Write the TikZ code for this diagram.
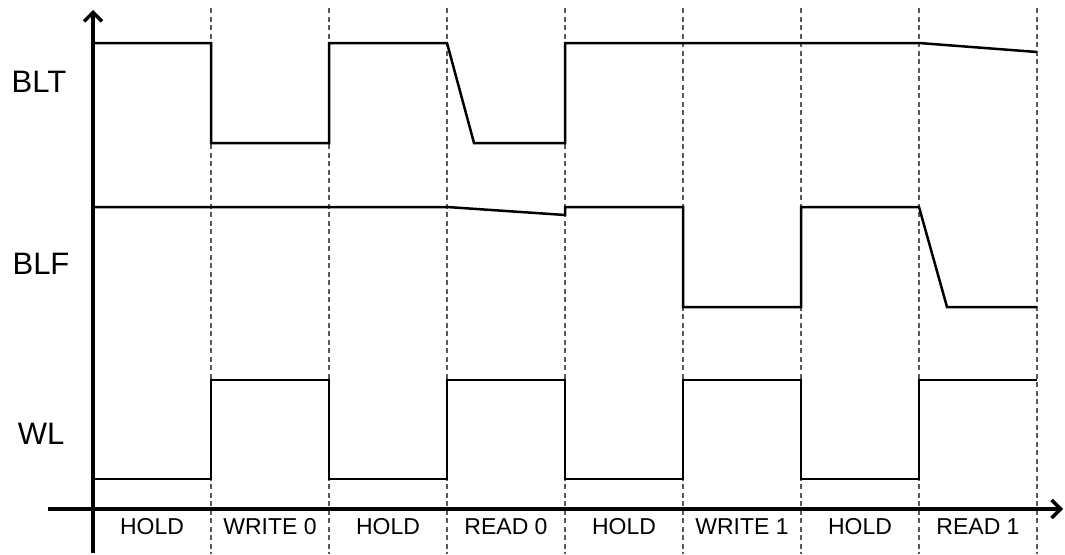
\documentclass[tikz,border=0pt]{standalone}
\usepackage{fontspec}
\setmainfont{Liberation Sans}
\usetikzlibrary{arrows.meta}
\begin{document}
\begin{tikzpicture}[x=1pt,y=-1pt,
  axis/.style={line width=3.5pt,-{Straight Barb[length=9pt,width=18pt,line width=3.5pt]}},
  sig/.style={line width=2.5pt,line join=miter},
  grid/.style={line width=1.2pt,dash pattern=on 5pt off 3.5pt,black!65},
  siglabel/.style={font=\fontsize{31}{31}\selectfont,inner sep=0pt},
  phase/.style={font=\fontsize{23}{23}\selectfont,inner sep=0pt}]
\useasboundingbox (0,0) rectangle (1065,554);
% dashed phase boundaries
\foreach \x in {211,329,447,565,683,801,919,1037}
  \draw[grid] (\x,8) -- (\x,554);
% axes
\draw[axis] (93,553) -- (93,10);
\draw[axis] (48,509) -- (1063,509);
% signals
\draw[sig] (93,43) -- (211,43) -- (211,143) -- (329,143) -- (329,43) -- (447,43) -- (474,143) -- (565,143) -- (565,43) -- (919,43) -- (1037,52);
\draw[sig] (93,207) -- (447,207) -- (565,215) -- (565,207) -- (683,207) -- (683,307) -- (801,307) -- (801,207) -- (919,207) -- (947,307) -- (1037,307);
\draw[sig] (93,479) -- (211,479) -- (211,380) -- (329,380) -- (329,479) -- (447,479) -- (447,380) -- (565,380) -- (565,479) -- (683,479) -- (683,380) -- (801,380) -- (801,479) -- (919,479) -- (919,380) -- (1037,380);
% signal labels
\node[siglabel] (blt) at (39,82) {BLT};
\node[siglabel] (blf) at (41,264) {BLF};
\node[siglabel] (wl) at (41,434) {WL};
% phase labels
\node[phase] (p1) at (152,527) {HOLD};
\node[phase] (p2) at (270,527) {WRITE 0};
\node[phase] (p3) at (388,527) {HOLD};
\node[phase] (p4) at (506,527) {READ 0};
\node[phase] (p5) at (624,527) {HOLD};
\node[phase] (p6) at (742,527) {WRITE 1};
\node[phase] (p7) at (860,527) {HOLD};
\node[phase] (p8) at (978,527) {READ 1};
\end{tikzpicture}
\end{document}
